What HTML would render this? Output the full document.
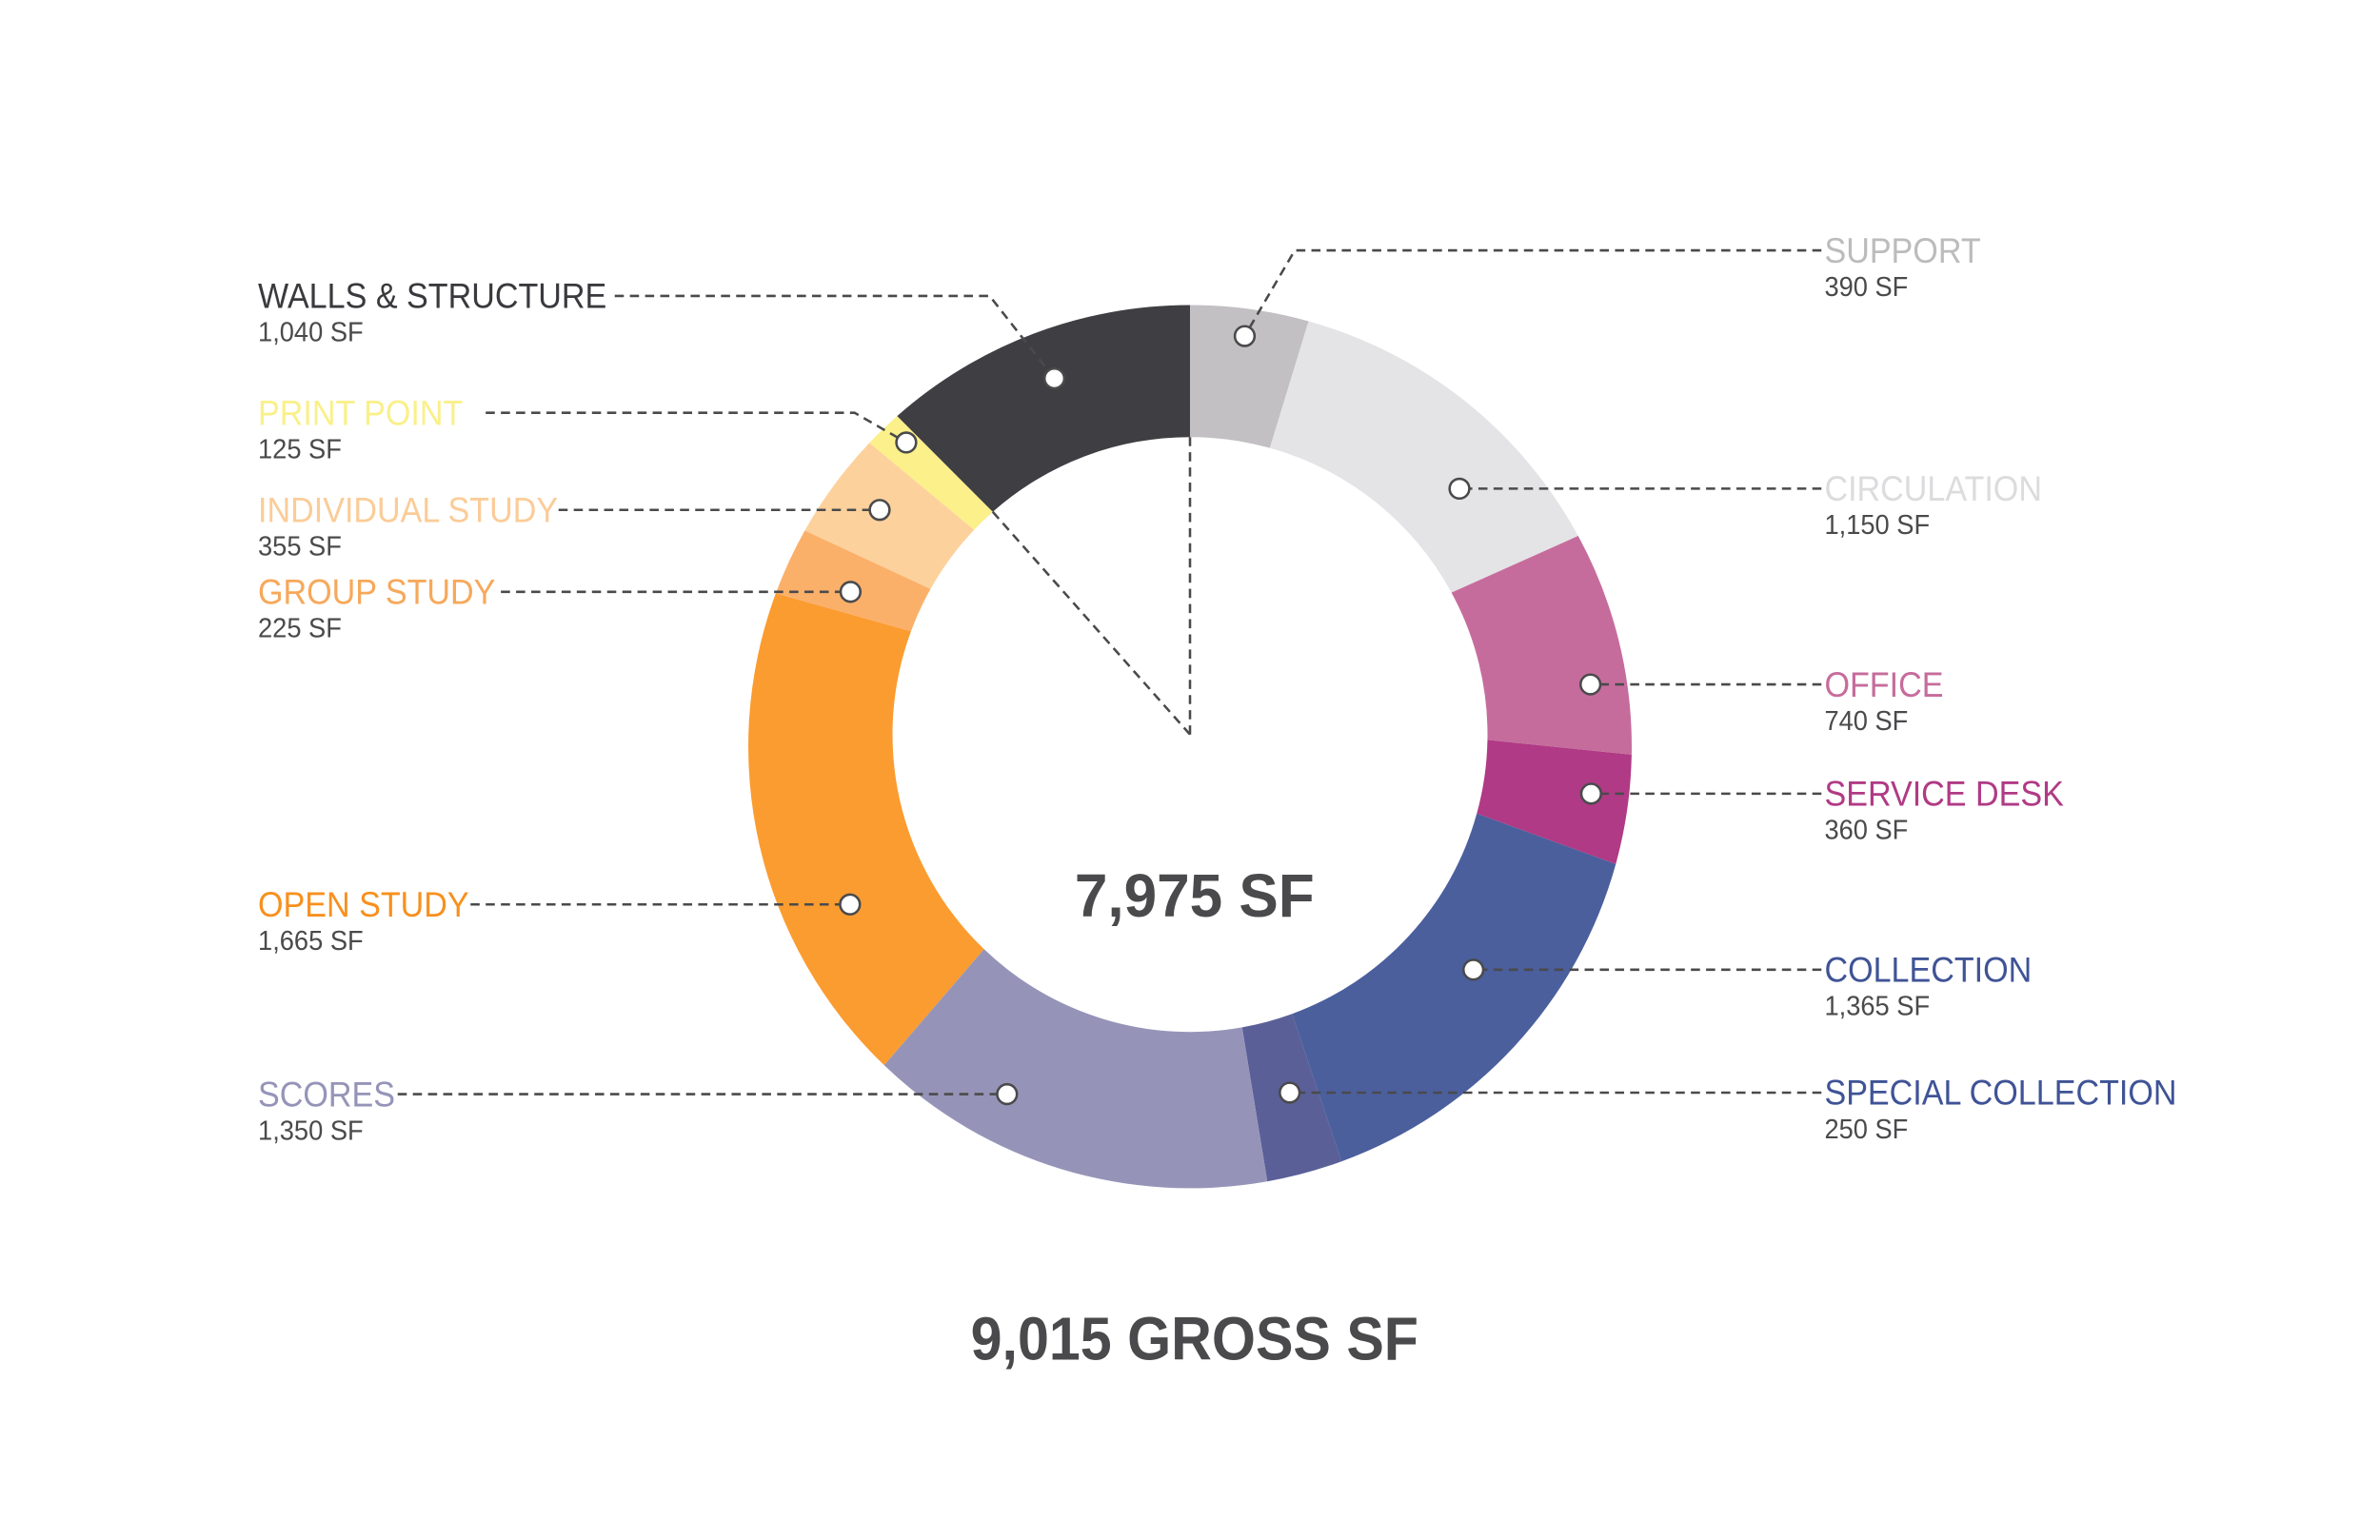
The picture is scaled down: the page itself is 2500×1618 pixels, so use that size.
<!DOCTYPE html>
<html><head><meta charset="utf-8"><style>
html,body{margin:0;padding:0;background:#fff;}
svg{display:block;}
text{font-family:"Liberation Sans Narrow","Liberation Sans",sans-serif;}
</style></head><body>
<svg id="chart" width="2500" height="1618" viewBox="0 0 1568 1014.8" xmlns="http://www.w3.org/2000/svg">
<g id="slices"></g>
<g id="guides"></g>
<g id="leaders"></g>
<g id="labels"></g>
<text x="787" y="604" text-anchor="middle" font-size="40" font-weight="bold" fill="#4a4a4c" textLength="158" lengthAdjust="spacingAndGlyphs">7,975 SF</text>
<text x="787" y="896" text-anchor="middle" font-size="40" font-weight="bold" fill="#4a4a4c" textLength="295" lengthAdjust="spacingAndGlyphs">9,015 GROSS SF</text>
</svg>
<script>
const categories=["SUPPORT","CIRCULATION","OFFICE","SERVICE DESK","COLLECTION","SPECIAL COLLECTION","SCORES","OPEN STUDY","GROUP STUDY","INDIVIDUAL STUDY","PRINT POINT","WALLS & STRUCTURE"];
const areas=[390,1150,740,360,1365,250,1350,1665,225,355,125,1040];
const valueLabels=["390 SF","1,150 SF","740 SF","360 SF","1,365 SF","250 SF","1,350 SF","1,665 SF","225 SF","355 SF","125 SF","1,040 SF"];
const netCount=11;
const colors=["#c2c0c2","#e4e4e6","#c66c9c","#b03a85","#4b5f9d","#5a5f98","#9594b8","#fb9c30","#fbb06a","#fdd19c","#fcf08a","#3f3e42"];
const textColors=["#bdbbbd","#dcdcde","#c66c9c","#b03a85","#3f5396","#3f5396","#9594b8","#f7901e","#f7a85a","#fbcc98","#faf08a","#3a393d"];
// layout: [side, labelX, labelY, lineStartX, elbowX (null = horizontal leader), markerRadius]
const layout=[["R",1202,165,1200,853,266],["R",1202,322,1200,null,241],["R",1202,451,1200,null,266],["R",1202,523,1200,null,267],["R",1202,639,1200,null,242],["R",1202,720,1200,null,244],["L",170,721,262,null,265],["L",170,596,310,null,250],["L",170,390,330,null,243],["L",170,336,368,null,253],["L",170,272,320,563,269],["L",170,195,405,652,252]];
const cx=784,cy=485;
const ocx=784,ocy=492,R=291;   // outer edge circle
const icx=784,icy=484,r=196;   // inner edge circle
const NS="http://www.w3.org/2000/svg";
const total=areas.reduce((a,b)=>a+b,0);
const ang=v=>v/total*2*Math.PI;
const pt=(a,rad)=>[cx+rad*Math.sin(a),cy-rad*Math.cos(a)];
const ptO=a=>[ocx+R*Math.sin(a),ocy-R*Math.cos(a)];
const ptI=a=>[icx+r*Math.sin(a),icy-r*Math.cos(a)];
const sl=document.getElementById('slices'),ld=document.getElementById('leaders'),lb=document.getElementById('labels'),gd=document.getElementById('guides');
let acc=0;
areas.forEach((v,i)=>{
  const a0=ang(acc),a1=ang(acc+v);acc+=v;
  const large=(a1-a0)>Math.PI?1:0;
  const p0=ptO(a0),p1=ptO(a1),q1=ptI(a1),q0=ptI(a0);
  const p=document.createElementNS(NS,'path');
  p.setAttribute('d',`M${p0} A${R},${R} 0 ${large} 1 ${p1} L${q1} A${r},${r} 0 ${large} 0 ${q0} Z`);
  p.setAttribute('fill',colors[i]);
  
  
  sl.appendChild(p);
  const L=layout[i];
  let m;
  if(L[4]!==null){ m=pt((a0+a1)/2,L[5]); }
  else { const dy=L[2]-cy; const dx=Math.sqrt(Math.max(0,L[5]*L[5]-dy*dy)); m=[L[0]==="R"?cx+dx:cx-dx,L[2]]; }
  const path=document.createElementNS(NS,'path');
  let d=`M${L[3]},${L[2]} `;
  if(L[4]!==null) d+=`L${L[4]},${L[2]} `;
  d+=`L${m[0]},${m[1]}`;
  path.setAttribute('d',d);path.setAttribute('fill','none');path.setAttribute('stroke','#4a4a4c');path.setAttribute('stroke-width','1.6');path.setAttribute('stroke-dasharray','6 4');
  
  
  ld.appendChild(path);
  const c=document.createElementNS(NS,'circle');
  c.setAttribute('cx',m[0]);c.setAttribute('cy',m[1]);c.setAttribute('r',6.5);c.setAttribute('fill','#fff');c.setAttribute('stroke','#4a4a4c');c.setAttribute('stroke-width','1.6');
  
  
  ld.appendChild(c);
  const t=document.createElementNS(NS,'text');
  t.setAttribute('x',L[1]);t.setAttribute('y',L[2]+8);t.setAttribute('font-size','23');t.setAttribute('fill',textColors[i]);
  t.textContent=categories[i];
  
  
  lb.appendChild(t);
  const w=t.getComputedTextLength();
  if(w>0){t.setAttribute('textLength',(w*0.93).toFixed(1));t.setAttribute('lengthAdjust','spacingAndGlyphs');}
  const s=document.createElementNS(NS,'text');
  s.setAttribute('x',L[1]);s.setAttribute('y',L[2]+30);s.setAttribute('font-size','18');s.setAttribute('fill','#4a4a4c');
  s.textContent=valueLabels[i];
  
  
  lb.appendChild(s);
  const w2=s.getComputedTextLength();
  if(w2>0){s.setAttribute('textLength',(w2*0.95).toFixed(1));s.setAttribute('lengthAdjust','spacingAndGlyphs');}
});
let netSum=0;for(let i=0;i<netCount;i++)netSum+=areas[i];
[0,ang(netSum)].forEach(a=>{
  const e=ptI(a);
  const g=document.createElementNS(NS,'line');
  g.setAttribute('x1',icx);g.setAttribute('y1',icy);g.setAttribute('x2',e[0]);g.setAttribute('y2',e[1]);
  g.setAttribute('stroke','#4a4a4c');g.setAttribute('stroke-width','1.6');g.setAttribute('stroke-dasharray','6 4');
  
  
  gd.appendChild(g);
});
</script>
</body></html>
